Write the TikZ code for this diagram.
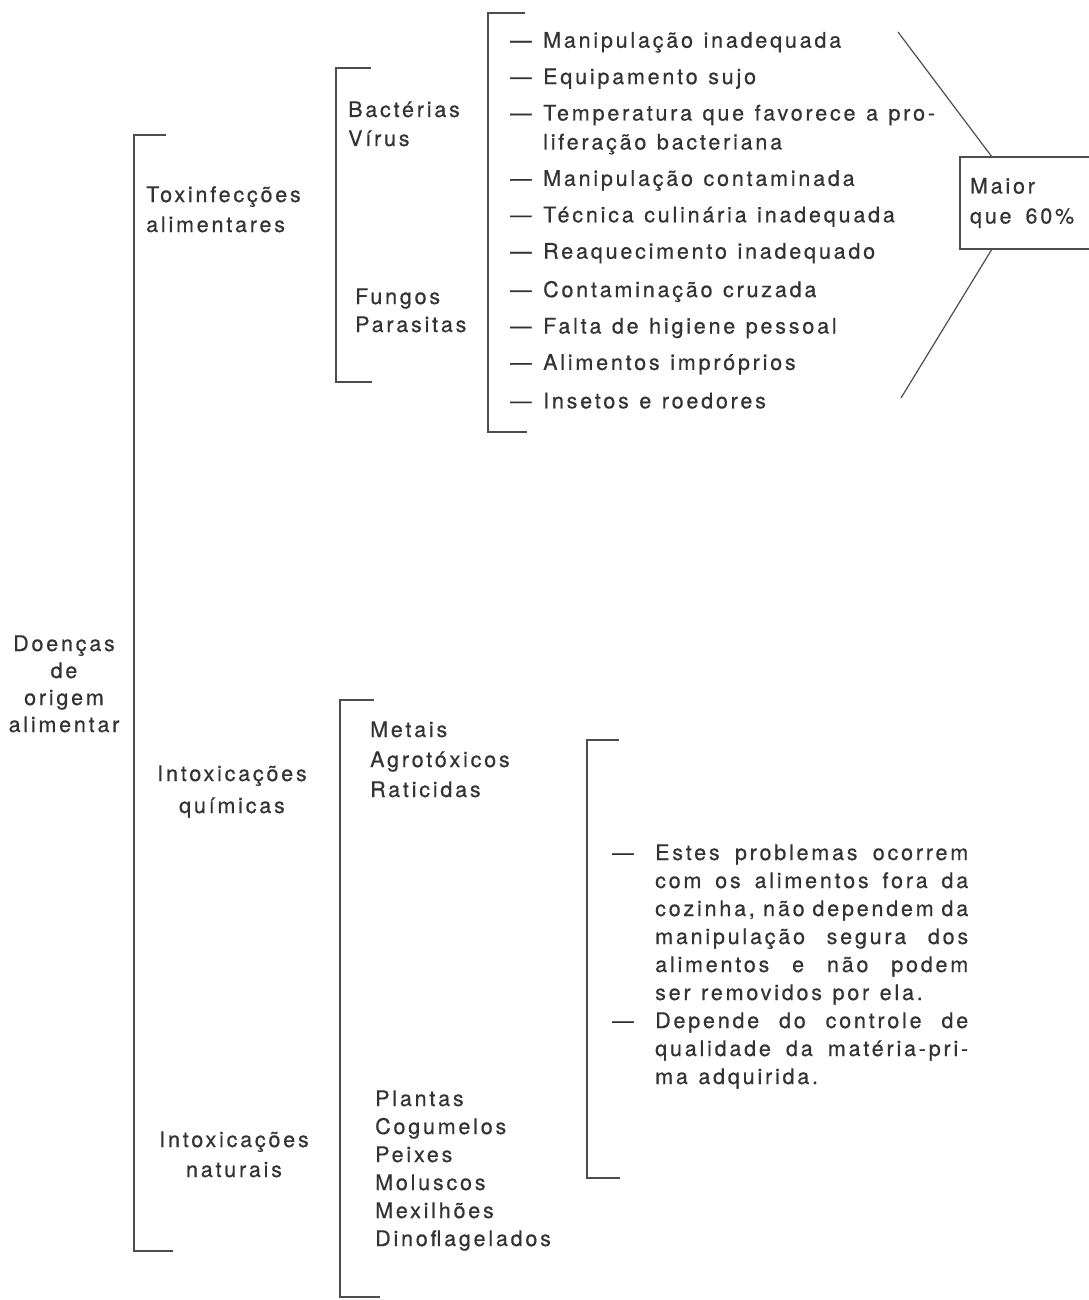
\documentclass[tikz,border=0pt]{standalone}
\usepackage{fontspec}
\newfontfamily\heros[LetterSpace=13,WordSpace=1.2,FakeBold=0.6]{TeX Gyre Heros}
\usetikzlibrary{positioning}
\definecolor{ink}{HTML}{333333}
\definecolor{brkgray}{HTML}{4D4D4D}
\newcommand{\dtxt}{\heros\fontsize{21.5}{29}\selectfont}
\newcommand{\dsh}{\makebox[33pt][l]{—}}
\newcommand{\pdsh}{\makebox[43pt][l]{—}}
\newcommand{\pind}{\hspace*{43pt}}
\tikzstyle{txt} = [inner sep=0pt, font=\dtxt, text=ink]
\tikzstyle{item} = [txt, anchor=north west, text height=16pt, text depth=5pt]
\tikzstyle{brk} = [draw=brkgray, line width=1.2pt]
\tikzstyle{box} = [txt, rectangle, draw=brkgray, line width=1.2pt, outer sep=0pt, anchor=north west, minimum height=92pt, text width=125pt, inner xsep=10pt, align=left]

\begin{document}
\begin{tikzpicture}[x=1pt, y=-1pt, node distance=15pt]
\useasboundingbox (0,0) rectangle (1088,1300);

% main groups (anchored at the last line)
\node(doencas) [txt, align=center, anchor=base] at (64,732) {Doenças\\[-2pt]de\\[-2pt]origem\\[-2pt]alimentar};
\node(toxinf) [txt, align=left, anchor=base west] at (146,232) {Toxinfecções\\[1pt]alimentares};
\node(quimicas) [txt, align=center, anchor=base] at (232,813) {Intoxicações\\[3pt]químicas};
\node(naturais) [txt, align=center, anchor=base] at (234,1177) {Intoxicações\\[1pt]naturais};

% agents
\node(bact) [txt, align=left, anchor=base west] at (348,146) {Bactérias\\Vírus};
\node(fungos) [txt, align=left, anchor=base west] at (355,332) {Fungos\\[-1pt]Parasitas};
\node(metais) [txt, align=left, anchor=base west] at (370,797) {Metais\\[1pt]Agrotóxicos\\[1pt]Raticidas};
\node(plantas) [txt, align=left, anchor=base west] at (375,1246) {Plantas\\[-1pt]Cogumelos\\[-1pt]Peixes\\[-1pt]Moluscos\\[-1pt]Mexilhões\\[-1pt]Dinoflagelados};

% causes
\node(man) [item] at (510,31.5) {\dsh Manipulação inadequada};
\node(equip) [item, below=of man.south west, anchor=north west] {\dsh Equipamento sujo};
\node(temp) [item, align=left, text height=45pt, below=of equip.south west, anchor=north west] {\dsh Temperatura que favorece a pro-\\\hspace*{33pt}liferação bacteriana};
\node(manc) [item, below=of temp.south west, anchor=north west] {\dsh Manipulação contaminada};
\node(tec) [item, below=of manc.south west, anchor=north west] {\dsh Técnica culinária inadequada};
\node(reaq) [item, below=of tec.south west, anchor=north west] {\dsh Reaquecimento inadequado};
\node(cruz) [item, below=17pt of reaq.south west, anchor=north west] {\dsh Contaminação cruzada};
\node(falta) [item, below=of cruz.south west, anchor=north west] {\dsh Falta de higiene pessoal};
\node(alim) [item, below=of falta.south west, anchor=north west] {\dsh Alimentos impróprios};
\node(inset) [item, below=17pt of alim.south west, anchor=north west] {\dsh Insetos e roedores};

\node(maior) [box] at (960,157) {Maior\\[1pt]que\hspace{14pt}60\%};
\coordinate (topend) at (898,32);
\coordinate (botend) at (901,398);
\draw[brk] (topend) -- ([xshift=32pt]maior.north west);
\draw[brk] ([xshift=32pt]maior.south west) -- (botend);

% outside the kitchen
\node(fora) [txt, align=left, anchor=base west] at (612,1084) {\pdsh\makebox[313pt][s]{Estes problemas ocorrem}\\[-1pt]
\pind\makebox[313pt][s]{com os alimentos fora da}\\[-1pt]
\pind\makebox[313pt][s]{cozinha, não dependem da}\\[-1pt]
\pind\makebox[313pt][s]{manipulação segura dos}\\[-1pt]
\pind\makebox[313pt][s]{alimentos e não podem}\\[-1pt]
\pind ser removidos por ela.\\[-1pt]
\pdsh\makebox[313pt][s]{Depende do controle de}\\[-1pt]
\pind\makebox[313pt][s]{qualidade da matéria-pri-}\\[-1pt]
\pind ma adquirida.};

% brackets
\draw[brk] (166,135) -- (134,135) -- (134,1251) -- (173,1251);
\draw[brk] (371,68) -- (336,68) -- (336,382) -- (372,382);
\draw[brk] (525,13) -- (488,13) -- (488,432) -- (527,432);
\draw[brk] (374,700) -- (340,700) -- (340,1297) -- (380,1297);
\draw[brk] (619,740) -- (587,740) -- (587,1178) -- (620,1178);
\end{tikzpicture}
\end{document}
